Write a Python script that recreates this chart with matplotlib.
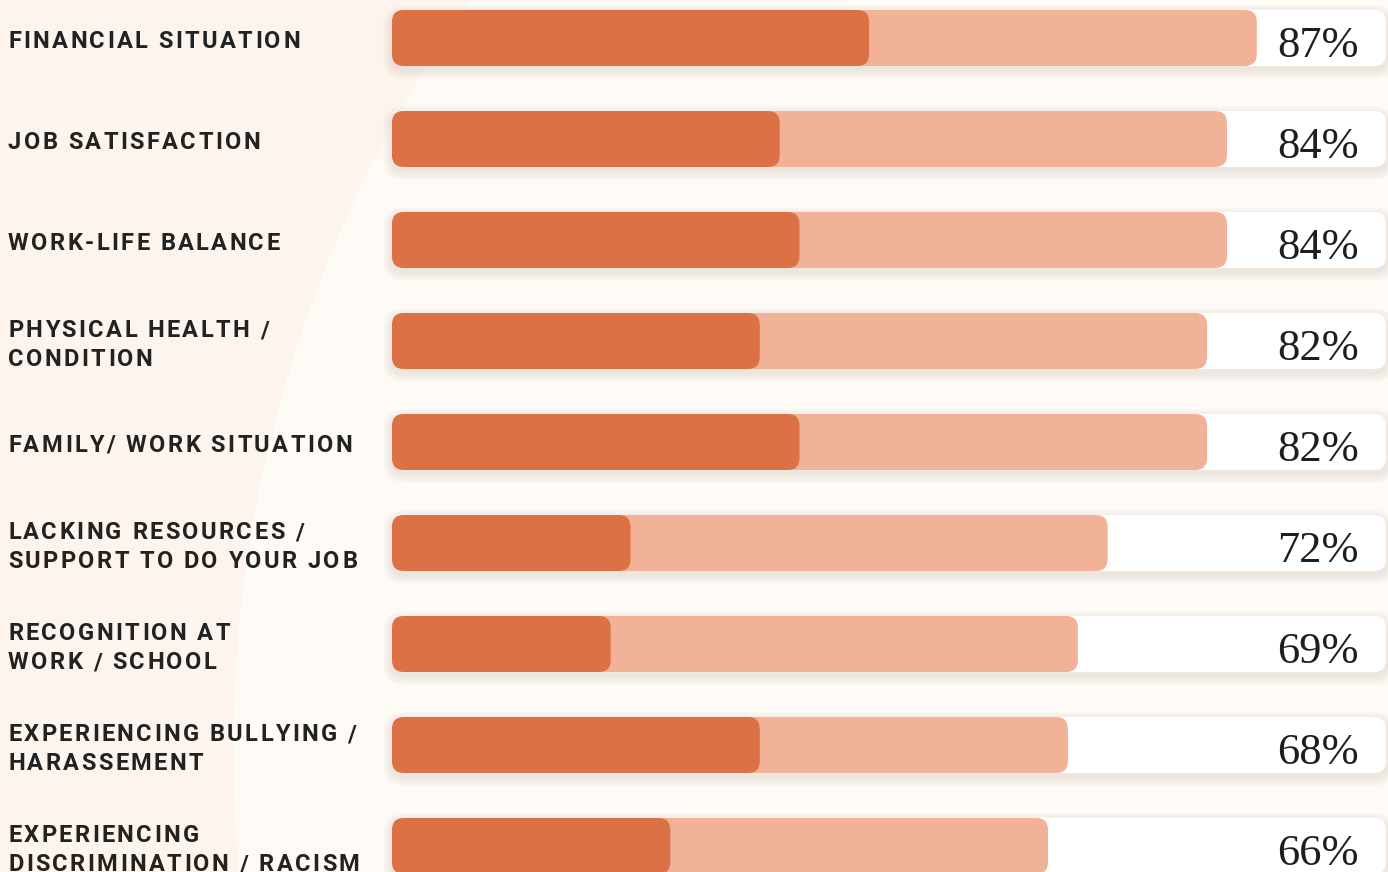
import matplotlib
matplotlib.use('Agg')
import matplotlib.pyplot as plt
from matplotlib.patches import FancyBboxPatch, Ellipse
from matplotlib.font_manager import FontProperties
from matplotlib.transforms import offset_copy

labels = [
    'FINANCIAL SITUATION',
    'JOB SATISFACTION',
    'WORK-LIFE BALANCE',
    'PHYSICAL HEALTH /\nCONDITION',
    'FAMILY/ WORK SITUATION',
    'LACKING RESOURCES /\nSUPPORT TO DO YOUR JOB',
    'RECOGNITION AT\nWORK / SCHOOL',
    'EXPERIENCING BULLYING /\nHARASSEMENT',
    'EXPERIENCING\nDISCRIMINATION / RACISM',
]
total = [87, 84, 84, 82, 82, 72, 69, 68, 66]
strong = [48, 39, 41, 37, 41, 24, 22, 37, 28]

DARK = '#DD7146'
LIGHT = '#F2B298'
BG = '#FCF4ED'
BG2 = '#FEFAF6'
INK = '#222222'

# pixel scale of the axes (figure is 1388 x 872 px)
PX = 9.94    # px per percent
PY = 101.0   # px per row
X0 = 392     # px of 0%
Y0 = 38      # px of first row centre
BAR_H = 56 / PY
RAD = 12

fig = plt.figure(figsize=(13.88, 8.72), dpi=100, facecolor=BG)
ax = fig.add_axes([0, 0, 1, 1])
ax.set_facecolor(BG)
ax.set_xlim(-X0 / PX, (1388 - X0) / PX)
ax.set_ylim((872 - Y0) / PY, -Y0 / PY)
ax.axis('off')

# soft background circle
ax.add_patch(Ellipse(((1539 - X0) / PX, (750 - Y0) / PY), 2 * 1306 / PX, 2 * 1306 / PY,
                     facecolor=BG2, edgecolor='none', zorder=0))


def rbar(x0, x1, yc, color, z, grow=0.0, dy=0.0, alpha=1.0):
    xg = grow / PX
    yg = grow / PY
    h = BAR_H + 2 * yg
    p = FancyBboxPatch((x0 - xg, yc - h / 2 + dy / PY), (x1 - x0) + 2 * xg, h,
                       boxstyle='round,pad=0,rounding_size=%f' % ((RAD + grow) / PX),
                       mutation_aspect=PX / PY, facecolor=color, edgecolor='none',
                       alpha=alpha, zorder=z)
    ax.add_patch(p)


rows = range(len(labels))
for i in rows:
    # shadow
    for k in range(6):
        rbar(0, 100, i, '#7a5a4a', 1, grow=1 + k * 1.6, dy=4, alpha=0.02)
    rbar(0, 100, i, 'white', 2)
    rbar(0, total[i], i, LIGHT, 3)
    rbar(0, strong[i], i, DARK, 4)
    ax.text((1359 - X0) / PX, i, '%d%%' % total[i], ha='right', va='baseline',
            fontsize=32, family=['Liberation Serif', 'DejaVu Serif'], color='#1e1e1e',
            transform=offset_copy(ax.transData, fig=fig, x=0, y=-19, units='dots'),
            zorder=5)

# letter-spaced labels
fp = FontProperties(family=['Roboto', 'DejaVu Sans'], weight='bold', size=17)
renderer = fig.canvas.get_renderer()
hw = renderer.get_text_width_height_descent('H', fp, ismath=False)[0]
TRACK = 2.4
CAP = 17


def spaced(x, y, s, dy):
    for j, ch in enumerate(s):
        if ch == ' ':
            continue
        adv = 0
        if j > 0:
            adv = renderer.get_text_width_height_descent(s[:j] + 'H', fp, ismath=False)[0] - hw
        tr = offset_copy(ax.transData, fig=fig, x=adv + j * TRACK, y=dy, units='dots')
        ax.text(x, y, ch, fontproperties=fp, color=INK, ha='left', va='baseline',
                transform=tr, zorder=5)


lx = (8 - X0) / PX
for i in rows:
    lines = labels[i].split('\n')
    if len(lines) == 1:
        spaced(lx, i, lines[0], -(1 + CAP / 2))
    else:
        spaced(lx, i, lines[0], -(-14.5 + 2 + CAP / 2))
        spaced(lx, i, lines[1], -(14.5 + 2 + CAP / 2))

fig.savefig('out.png', dpi=100, facecolor=BG)
plt.close()
